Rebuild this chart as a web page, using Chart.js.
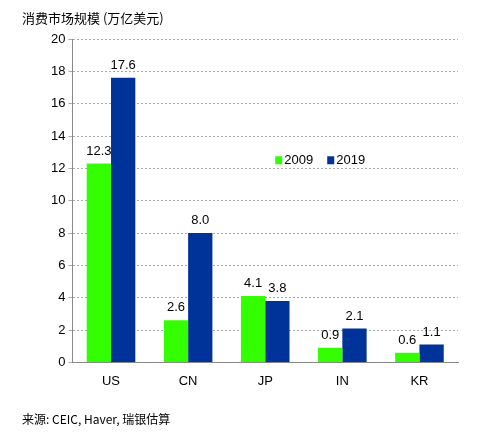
<!DOCTYPE html>
<html><head><meta charset="utf-8">
<script src="https://cdn.jsdelivr.net/npm/chart.js@4/dist/chart.umd.min.js"></script>
<style>body{margin:0;background:#fff;font-family:"Noto Sans CJK SC",Arial,sans-serif}
#t{position:absolute;left:22px;top:8px;font-size:13px;color:#000}
#s{position:absolute;left:22px;top:410px;font-size:12px;color:#000}
#w{position:absolute;left:0;top:0;width:490px;height:438px}</style></head>
<body><div id="w"><canvas id="c"></canvas></div>
<div id="t">消费市场规模 (万亿美元)</div>
<div id="s">来源: CEIC, Haver, 瑞银估算</div>
<script>
const categories=["US","CN","JP","IN","KR"];
const v2009=[12.3,2.6,4.1,0.9,0.6];
const v2019=[17.6,8.0,3.8,2.1,1.1];
const seriesNames=["2009","2019"];
const colors=["#33ff00","#003399"];
const labelsPlugin={id:"lbl",afterDatasetsDraw(ch){const c=ch.ctx;c.save();c.font="13px Arial";c.fillStyle="#000";c.textAlign="center";c.textBaseline="bottom";
ch.data.datasets.forEach((d,i)=>{ch.getDatasetMeta(i).data.forEach((b,j)=>{c.fillText(d.data[j].toFixed(1),b.x,b.y-6);});});
const x=ch.scales.x.getPixelForValue(2)+10,y=ch.scales.y.getPixelForValue(12.5);
c.textAlign="left";c.textBaseline="middle";c.font="13px Arial";
seriesNames.forEach((n,i)=>{const xx=x+i*52;c.fillStyle=colors[i];c.fillRect(xx,y-4,7,8);c.fillStyle="#000";c.fillText(n,xx+9,y);});
c.restore();}};
new Chart(document.getElementById("c"),{type:"bar",
data:{labels:categories,datasets:[{label:seriesNames[0],data:v2009,backgroundColor:colors[0]},{label:seriesNames[1],data:v2019,backgroundColor:colors[1]}]},
options:{responsive:true,maintainAspectRatio:false,animation:false,
layout:{padding:{left:48,right:32,top:39,bottom:46}},
plugins:{legend:{display:false},tooltip:{enabled:false}},
datasets:{bar:{categoryPercentage:0.63,barPercentage:1}},
scales:{x:{grid:{display:false},border:{color:"#888"},ticks:{color:"#000",font:{size:13,family:"Arial"}}},
y:{min:0,max:20,ticks:{stepSize:2,color:"#000",font:{size:13,family:"Arial"}},border:{color:"#888"},grid:{color:"#aaa",tickLength:4},border:{color:"#888",dash:[2,2]}}}}
,plugins:[labelsPlugin]});
</script></body></html>
